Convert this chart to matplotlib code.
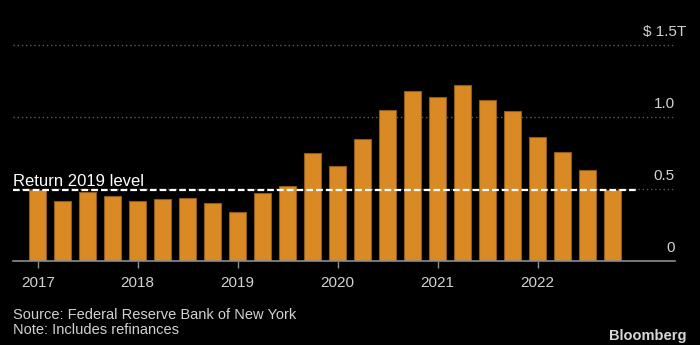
import numpy as np
import matplotlib
matplotlib.use('Agg')
import matplotlib.pyplot as plt

matplotlib.rcParams['font.family'] = ['Liberation Sans', 'DejaVu Sans']

# quarterly mortgage originations, trillions of dollars
quarters = ['%d Q%d' % (y, q) for y in range(2017, 2023) for q in range(1, 5)]
originations = [0.49, 0.42, 0.48, 0.45, 0.42, 0.43, 0.44, 0.40,
                0.34, 0.47, 0.52, 0.75, 0.66, 0.85, 1.05, 1.18,
                1.14, 1.22, 1.12, 1.04, 0.86, 0.76, 0.63, 0.49]
level_2019 = 0.49
years = [2017, 2018, 2019, 2020, 2021, 2022]
y_grid = [0.5, 1.0, 1.5]
y_labels = ['0', '0.5', '1.0', '$ 1.5T']

bar_col = '#DA8A24'
txt_col = '#d2d2d2'
grid_col = '#5c5c5c'

fig = plt.figure(figsize=(7, 3.45), dpi=100, facecolor='black')
ax = fig.add_axes([13 / 700, 84 / 345, 662 / 700, 216 / 345])
ax.set_facecolor('black')

x = np.arange(len(quarters))
for g in y_grid:
    ax.axhline(g, color=grid_col, lw=1.0, ls=(0, (1, 2)), zorder=1,
               clip_on=False)
ax.bar(x, originations, width=0.7, color=bar_col, edgecolor='#8f5b1c',
       linewidth=0.8, zorder=2)
ax.axhline(level_2019, xmin=0, xmax=0.941, color='white', lw=1.6,
           dashes=(3, 1.4), zorder=3)
ax.annotate('Return 2019 level', xy=(0, level_2019),
            xycoords=('axes fraction', 'data'), xytext=(0, 3),
            textcoords='offset points', ha='left', va='baseline',
            color='white', fontsize=12)

ax.set_xlim(-0.988, 25.49)
ax.set_ylim(0, 1.5)

# year ticks on the first quarter of each year
ax.set_xticks([x[quarters.index('%d Q1' % y)] for y in years])
ax.set_xticklabels([str(y) for y in years])
ax.tick_params(axis='x', length=5, width=1, color='#8c8c8c',
               labelcolor=txt_col, labelsize=11, pad=6)
ax.set_yticks([])

for s in ['top', 'left', 'right']:
    ax.spines[s].set_visible(False)
ax.spines['bottom'].set_color('#8c8c8c')
ax.spines['bottom'].set_linewidth(1.2)

# value labels sit above their gridlines at the right edge
for v, lab in zip([0] + y_grid, y_labels):
    dx = 8 if lab.endswith('T') else 0
    ax.annotate(lab, xy=(1.0, v), xycoords=('axes fraction', 'data'),
                xytext=(dx, 6.5), textcoords='offset points',
                ha='right', va='baseline', color=txt_col, fontsize=11,
                annotation_clip=False)

fig.text(13 / 700, 1 - 319 / 345, 'Source: Federal Reserve Bank of New York',
         color=txt_col, fontsize=10.5, va='baseline', ha='left')
fig.text(13 / 700, 1 - 334 / 345, 'Note: Includes refinances',
         color=txt_col, fontsize=10.5, va='baseline', ha='left')
fig.text(687 / 700, 1 - 340 / 345, 'Bloomberg', color='#d8d8d8',
         fontsize=10.5, fontweight='bold', va='baseline', ha='right')

fig.savefig('out.png', dpi=100, facecolor='black')
